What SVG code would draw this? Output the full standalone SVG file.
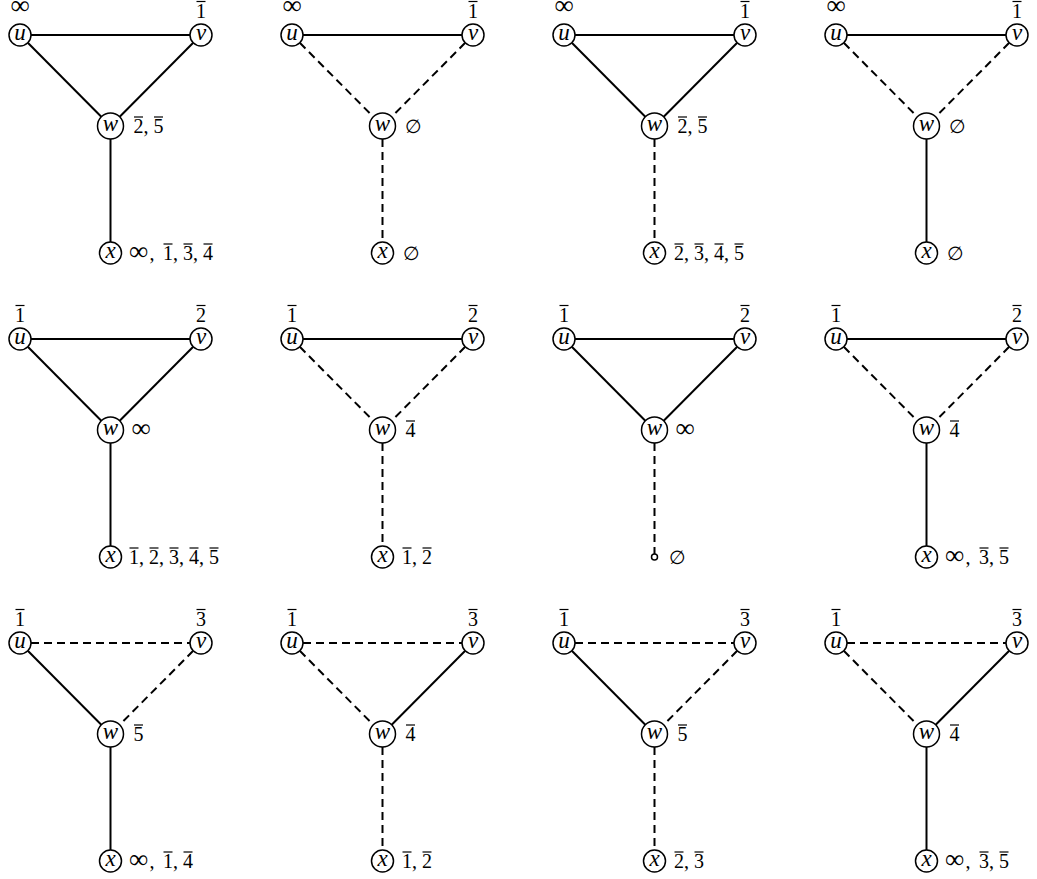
<svg xmlns="http://www.w3.org/2000/svg" width="1037" height="879" viewBox="0 0 1037 879">
<style>
.e{stroke:#000;stroke-width:2;fill:none}
.d{stroke-dasharray:8 5}
.n circle{fill:#fff;stroke:#000;stroke-width:1.5}
.bar{stroke:#000;stroke-width:1.2}
.nl{font-family:"Liberation Serif","DejaVu Serif",serif;font-style:italic;font-size:23px;text-anchor:middle}
.lb{font-family:"Liberation Serif","DejaVu Serif",serif;font-size:20px}
.inf{font-size:27px}
.es{font-family:"DejaVu Serif",serif;font-size:19px}
.c{text-anchor:middle}
</style>
<rect width="1037" height="879" fill="#fff"/>

<!-- Row 1 -->
<g id="r1c1" transform="translate(0,0)">
<g id="r1c1-edges"><line class="e" x1="31" y1="35" x2="190" y2="35"/><line class="e" x1="27.8" y1="42.8" x2="101.3" y2="116.8"/><line class="e" x1="193.2" y1="42.8" x2="119.7" y2="116.8"/><line class="e" x1="110.5" y1="139" x2="110.5" y2="242"/></g>
<g id="r1c1-u" class="n"><circle cx="20" cy="35" r="11"/><text class="nl" x="20" y="40.2">u</text><text class="lb inf c" x="20" y="14">∞</text></g>
<g id="r1c1-v" class="n"><circle cx="201" cy="35" r="11"/><text class="nl" x="201" y="40.2">v</text><text class="lb c" x="201" y="17.5">1</text><line class="bar" x1="196.5" y1="1.5" x2="205.5" y2="1.5"/></g>
<g id="r1c1-w" class="n"><circle cx="110.5" cy="126" r="13"/><text class="nl" x="110.5" y="131.2">w</text><text class="lb" y="133"><tspan x="133.5">2,</tspan><tspan x="153.5">5</tspan></text><line class="bar" x1="134" y1="117" x2="143" y2="117"/><line class="bar" x1="154" y1="117" x2="163" y2="117"/></g>
<g id="r1c1-x" class="n"><circle cx="110.5" cy="253" r="11"/><text class="nl" x="110.5" y="258.2">x</text><text class="lb" y="260"><tspan class="inf" x="129">∞</tspan><tspan x="149.5">,</tspan><tspan x="163">1,</tspan><tspan x="183">3,</tspan><tspan x="203">4</tspan></text><line class="bar" x1="163.5" y1="244" x2="172.5" y2="244"/><line class="bar" x1="183.5" y1="244" x2="192.5" y2="244"/><line class="bar" x1="203.5" y1="244" x2="212.5" y2="244"/></g>
</g>

<g id="r1c2" transform="translate(272,0)">
<g id="r1c2-edges"><line class="e" x1="31" y1="35" x2="190" y2="35"/><line class="e d" x1="27.8" y1="42.8" x2="101.3" y2="116.8"/><line class="e d" x1="193.2" y1="42.8" x2="119.7" y2="116.8"/><line class="e d" x1="110.5" y1="139" x2="110.5" y2="242"/></g>
<g id="r1c2-u" class="n"><circle cx="20" cy="35" r="11"/><text class="nl" x="20" y="40.2">u</text><text class="lb inf c" x="20" y="14">∞</text></g>
<g id="r1c2-v" class="n"><circle cx="201" cy="35" r="11"/><text class="nl" x="201" y="40.2">v</text><text class="lb c" x="201" y="17.5">1</text><line class="bar" x1="196.5" y1="1.5" x2="205.5" y2="1.5"/></g>
<g id="r1c2-w" class="n"><circle cx="110.5" cy="126" r="13"/><text class="nl" x="110.5" y="131.2">w</text><text class="es" x="132.5" y="133">∅</text></g>
<g id="r1c2-x" class="n"><circle cx="110.5" cy="253" r="11"/><text class="nl" x="110.5" y="258.2">x</text><text class="es" x="130.5" y="260">∅</text></g>
</g>

<g id="r1c3" transform="translate(544,0)">
<g id="r1c3-edges"><line class="e" x1="31" y1="35" x2="190" y2="35"/><line class="e" x1="27.8" y1="42.8" x2="101.3" y2="116.8"/><line class="e" x1="193.2" y1="42.8" x2="119.7" y2="116.8"/><line class="e d" x1="110.5" y1="139" x2="110.5" y2="242"/></g>
<g id="r1c3-u" class="n"><circle cx="20" cy="35" r="11"/><text class="nl" x="20" y="40.2">u</text><text class="lb inf c" x="20" y="14">∞</text></g>
<g id="r1c3-v" class="n"><circle cx="201" cy="35" r="11"/><text class="nl" x="201" y="40.2">v</text><text class="lb c" x="201" y="17.5">1</text><line class="bar" x1="196.5" y1="1.5" x2="205.5" y2="1.5"/></g>
<g id="r1c3-w" class="n"><circle cx="110.5" cy="126" r="13"/><text class="nl" x="110.5" y="131.2">w</text><text class="lb" y="133"><tspan x="133.5">2,</tspan><tspan x="153.5">5</tspan></text><line class="bar" x1="134" y1="117" x2="143" y2="117"/><line class="bar" x1="154" y1="117" x2="163" y2="117"/></g>
<g id="r1c3-x" class="n"><circle cx="110.5" cy="253" r="11"/><text class="nl" x="110.5" y="258.2">x</text><text class="lb" y="260"><tspan x="130">2,</tspan><tspan x="150">3,</tspan><tspan x="170">4,</tspan><tspan x="190">5</tspan></text><line class="bar" x1="130.5" y1="244" x2="139.5" y2="244"/><line class="bar" x1="150.5" y1="244" x2="159.5" y2="244"/><line class="bar" x1="170.5" y1="244" x2="179.5" y2="244"/><line class="bar" x1="190.5" y1="244" x2="199.5" y2="244"/></g>
</g>

<g id="r1c4" transform="translate(816,0)">
<g id="r1c4-edges"><line class="e" x1="31" y1="35" x2="190" y2="35"/><line class="e d" x1="27.8" y1="42.8" x2="101.3" y2="116.8"/><line class="e d" x1="193.2" y1="42.8" x2="119.7" y2="116.8"/><line class="e" x1="110.5" y1="139" x2="110.5" y2="242"/></g>
<g id="r1c4-u" class="n"><circle cx="20" cy="35" r="11"/><text class="nl" x="20" y="40.2">u</text><text class="lb inf c" x="20" y="14">∞</text></g>
<g id="r1c4-v" class="n"><circle cx="201" cy="35" r="11"/><text class="nl" x="201" y="40.2">v</text><text class="lb c" x="201" y="17.5">1</text><line class="bar" x1="196.5" y1="1.5" x2="205.5" y2="1.5"/></g>
<g id="r1c4-w" class="n"><circle cx="110.5" cy="126" r="13"/><text class="nl" x="110.5" y="131.2">w</text><text class="es" x="132.5" y="133">∅</text></g>
<g id="r1c4-x" class="n"><circle cx="110.5" cy="253" r="11"/><text class="nl" x="110.5" y="258.2">x</text><text class="es" x="130.5" y="260">∅</text></g>
</g>

<!-- Row 2 -->
<g id="r2c1" transform="translate(0,304)">
<g id="r2c1-edges"><line class="e" x1="31" y1="35" x2="190" y2="35"/><line class="e" x1="27.8" y1="42.8" x2="101.3" y2="116.8"/><line class="e" x1="193.2" y1="42.8" x2="119.7" y2="116.8"/><line class="e" x1="110.5" y1="139" x2="110.5" y2="242"/></g>
<g id="r2c1-u" class="n"><circle cx="20" cy="35" r="11"/><text class="nl" x="20" y="40.2">u</text><text class="lb c" x="20" y="17.5">1</text><line class="bar" x1="15.5" y1="1.5" x2="24.5" y2="1.5"/></g>
<g id="r2c1-v" class="n"><circle cx="201" cy="35" r="11"/><text class="nl" x="201" y="40.2">v</text><text class="lb c" x="201" y="17.5">2</text><line class="bar" x1="196.5" y1="1.5" x2="205.5" y2="1.5"/></g>
<g id="r2c1-w" class="n"><circle cx="110.5" cy="126" r="13"/><text class="nl" x="110.5" y="131.2">w</text><text class="lb inf" x="131.5" y="133">∞</text></g>
<g id="r2c1-x" class="n"><circle cx="110.5" cy="253" r="11"/><text class="nl" x="110.5" y="258.2">x</text><text class="lb" y="260"><tspan x="129">1,</tspan><tspan x="149">2,</tspan><tspan x="169">3,</tspan><tspan x="189">4,</tspan><tspan x="209">5</tspan></text><line class="bar" x1="129.5" y1="244" x2="138.5" y2="244"/><line class="bar" x1="149.5" y1="244" x2="158.5" y2="244"/><line class="bar" x1="169.5" y1="244" x2="178.5" y2="244"/><line class="bar" x1="189.5" y1="244" x2="198.5" y2="244"/><line class="bar" x1="209.5" y1="244" x2="218.5" y2="244"/></g>
</g>

<g id="r2c2" transform="translate(272,304)">
<g id="r2c2-edges"><line class="e" x1="31" y1="35" x2="190" y2="35"/><line class="e d" x1="27.8" y1="42.8" x2="101.3" y2="116.8"/><line class="e d" x1="193.2" y1="42.8" x2="119.7" y2="116.8"/><line class="e d" x1="110.5" y1="139" x2="110.5" y2="242"/></g>
<g id="r2c2-u" class="n"><circle cx="20" cy="35" r="11"/><text class="nl" x="20" y="40.2">u</text><text class="lb c" x="20" y="17.5">1</text><line class="bar" x1="15.5" y1="1.5" x2="24.5" y2="1.5"/></g>
<g id="r2c2-v" class="n"><circle cx="201" cy="35" r="11"/><text class="nl" x="201" y="40.2">v</text><text class="lb c" x="201" y="17.5">2</text><line class="bar" x1="196.5" y1="1.5" x2="205.5" y2="1.5"/></g>
<g id="r2c2-w" class="n"><circle cx="110.5" cy="126" r="13"/><text class="nl" x="110.5" y="131.2">w</text><text class="lb" x="133.5" y="133">4</text><line class="bar" x1="134" y1="117" x2="143" y2="117"/></g>
<g id="r2c2-x" class="n"><circle cx="110.5" cy="253" r="11"/><text class="nl" x="110.5" y="258.2">x</text><text class="lb" y="260"><tspan x="130">1,</tspan><tspan x="150">2</tspan></text><line class="bar" x1="130.5" y1="244" x2="139.5" y2="244"/><line class="bar" x1="150.5" y1="244" x2="159.5" y2="244"/></g>
</g>

<g id="r2c3" transform="translate(544,304)">
<g id="r2c3-edges"><line class="e" x1="31" y1="35" x2="190" y2="35"/><line class="e" x1="27.8" y1="42.8" x2="101.3" y2="116.8"/><line class="e" x1="193.2" y1="42.8" x2="119.7" y2="116.8"/><line class="e d" x1="110.5" y1="139" x2="110.5" y2="250"/></g>
<g id="r2c3-u" class="n"><circle cx="20" cy="35" r="11"/><text class="nl" x="20" y="40.2">u</text><text class="lb c" x="20" y="17.5">1</text><line class="bar" x1="15.5" y1="1.5" x2="24.5" y2="1.5"/></g>
<g id="r2c3-v" class="n"><circle cx="201" cy="35" r="11"/><text class="nl" x="201" y="40.2">v</text><text class="lb c" x="201" y="17.5">2</text><line class="bar" x1="196.5" y1="1.5" x2="205.5" y2="1.5"/></g>
<g id="r2c3-w" class="n"><circle cx="110.5" cy="126" r="13"/><text class="nl" x="110.5" y="131.2">w</text><text class="lb inf" x="131.5" y="133">∞</text></g>
<g id="r2c3-x" class="n"><circle cx="110.5" cy="253" r="3"/><text class="es" x="125" y="260">∅</text></g>
</g>

<g id="r2c4" transform="translate(816,304)">
<g id="r2c4-edges"><line class="e" x1="31" y1="35" x2="190" y2="35"/><line class="e d" x1="27.8" y1="42.8" x2="101.3" y2="116.8"/><line class="e d" x1="193.2" y1="42.8" x2="119.7" y2="116.8"/><line class="e" x1="110.5" y1="139" x2="110.5" y2="242"/></g>
<g id="r2c4-u" class="n"><circle cx="20" cy="35" r="11"/><text class="nl" x="20" y="40.2">u</text><text class="lb c" x="20" y="17.5">1</text><line class="bar" x1="15.5" y1="1.5" x2="24.5" y2="1.5"/></g>
<g id="r2c4-v" class="n"><circle cx="201" cy="35" r="11"/><text class="nl" x="201" y="40.2">v</text><text class="lb c" x="201" y="17.5">2</text><line class="bar" x1="196.5" y1="1.5" x2="205.5" y2="1.5"/></g>
<g id="r2c4-w" class="n"><circle cx="110.5" cy="126" r="13"/><text class="nl" x="110.5" y="131.2">w</text><text class="lb" x="133.5" y="133">4</text><line class="bar" x1="134" y1="117" x2="143" y2="117"/></g>
<g id="r2c4-x" class="n"><circle cx="110.5" cy="253" r="11"/><text class="nl" x="110.5" y="258.2">x</text><text class="lb" y="260"><tspan class="inf" x="129">∞</tspan><tspan x="149.5">,</tspan><tspan x="163">3,</tspan><tspan x="183">5</tspan></text><line class="bar" x1="163.5" y1="244" x2="172.5" y2="244"/><line class="bar" x1="183.5" y1="244" x2="192.5" y2="244"/></g>
</g>

<!-- Row 3 -->
<g id="r3c1" transform="translate(0,608)">
<g id="r3c1-edges"><line class="e d" x1="31" y1="35" x2="190" y2="35"/><line class="e" x1="27.8" y1="42.8" x2="101.3" y2="116.8"/><line class="e d" x1="193.2" y1="42.8" x2="119.7" y2="116.8"/><line class="e" x1="110.5" y1="139" x2="110.5" y2="242"/></g>
<g id="r3c1-u" class="n"><circle cx="20" cy="35" r="11"/><text class="nl" x="20" y="40.2">u</text><text class="lb c" x="20" y="17.5">1</text><line class="bar" x1="15.5" y1="1.5" x2="24.5" y2="1.5"/></g>
<g id="r3c1-v" class="n"><circle cx="201" cy="35" r="11"/><text class="nl" x="201" y="40.2">v</text><text class="lb c" x="201" y="17.5">3</text><line class="bar" x1="196.5" y1="1.5" x2="205.5" y2="1.5"/></g>
<g id="r3c1-w" class="n"><circle cx="110.5" cy="126" r="13"/><text class="nl" x="110.5" y="131.2">w</text><text class="lb" x="133.5" y="133">5</text><line class="bar" x1="134" y1="117" x2="143" y2="117"/></g>
<g id="r3c1-x" class="n"><circle cx="110.5" cy="253" r="11"/><text class="nl" x="110.5" y="258.2">x</text><text class="lb" y="260"><tspan class="inf" x="129">∞</tspan><tspan x="149.5">,</tspan><tspan x="163">1,</tspan><tspan x="183">4</tspan></text><line class="bar" x1="163.5" y1="244" x2="172.5" y2="244"/><line class="bar" x1="183.5" y1="244" x2="192.5" y2="244"/></g>
</g>

<g id="r3c2" transform="translate(272,608)">
<g id="r3c2-edges"><line class="e d" x1="31" y1="35" x2="190" y2="35"/><line class="e d" x1="27.8" y1="42.8" x2="101.3" y2="116.8"/><line class="e" x1="193.2" y1="42.8" x2="119.7" y2="116.8"/><line class="e d" x1="110.5" y1="139" x2="110.5" y2="242"/></g>
<g id="r3c2-u" class="n"><circle cx="20" cy="35" r="11"/><text class="nl" x="20" y="40.2">u</text><text class="lb c" x="20" y="17.5">1</text><line class="bar" x1="15.5" y1="1.5" x2="24.5" y2="1.5"/></g>
<g id="r3c2-v" class="n"><circle cx="201" cy="35" r="11"/><text class="nl" x="201" y="40.2">v</text><text class="lb c" x="201" y="17.5">3</text><line class="bar" x1="196.5" y1="1.5" x2="205.5" y2="1.5"/></g>
<g id="r3c2-w" class="n"><circle cx="110.5" cy="126" r="13"/><text class="nl" x="110.5" y="131.2">w</text><text class="lb" x="133.5" y="133">4</text><line class="bar" x1="134" y1="117" x2="143" y2="117"/></g>
<g id="r3c2-x" class="n"><circle cx="110.5" cy="253" r="11"/><text class="nl" x="110.5" y="258.2">x</text><text class="lb" y="260"><tspan x="130">1,</tspan><tspan x="150">2</tspan></text><line class="bar" x1="130.5" y1="244" x2="139.5" y2="244"/><line class="bar" x1="150.5" y1="244" x2="159.5" y2="244"/></g>
</g>

<g id="r3c3" transform="translate(544,608)">
<g id="r3c3-edges"><line class="e d" x1="31" y1="35" x2="190" y2="35"/><line class="e" x1="27.8" y1="42.8" x2="101.3" y2="116.8"/><line class="e d" x1="193.2" y1="42.8" x2="119.7" y2="116.8"/><line class="e d" x1="110.5" y1="139" x2="110.5" y2="242"/></g>
<g id="r3c3-u" class="n"><circle cx="20" cy="35" r="11"/><text class="nl" x="20" y="40.2">u</text><text class="lb c" x="20" y="17.5">1</text><line class="bar" x1="15.5" y1="1.5" x2="24.5" y2="1.5"/></g>
<g id="r3c3-v" class="n"><circle cx="201" cy="35" r="11"/><text class="nl" x="201" y="40.2">v</text><text class="lb c" x="201" y="17.5">3</text><line class="bar" x1="196.5" y1="1.5" x2="205.5" y2="1.5"/></g>
<g id="r3c3-w" class="n"><circle cx="110.5" cy="126" r="13"/><text class="nl" x="110.5" y="131.2">w</text><text class="lb" x="133.5" y="133">5</text><line class="bar" x1="134" y1="117" x2="143" y2="117"/></g>
<g id="r3c3-x" class="n"><circle cx="110.5" cy="253" r="11"/><text class="nl" x="110.5" y="258.2">x</text><text class="lb" y="260"><tspan x="130">2,</tspan><tspan x="150">3</tspan></text><line class="bar" x1="130.5" y1="244" x2="139.5" y2="244"/><line class="bar" x1="150.5" y1="244" x2="159.5" y2="244"/></g>
</g>

<g id="r3c4" transform="translate(816,608)">
<g id="r3c4-edges"><line class="e d" x1="31" y1="35" x2="190" y2="35"/><line class="e d" x1="27.8" y1="42.8" x2="101.3" y2="116.8"/><line class="e" x1="193.2" y1="42.8" x2="119.7" y2="116.8"/><line class="e" x1="110.5" y1="139" x2="110.5" y2="242"/></g>
<g id="r3c4-u" class="n"><circle cx="20" cy="35" r="11"/><text class="nl" x="20" y="40.2">u</text><text class="lb c" x="20" y="17.5">1</text><line class="bar" x1="15.5" y1="1.5" x2="24.5" y2="1.5"/></g>
<g id="r3c4-v" class="n"><circle cx="201" cy="35" r="11"/><text class="nl" x="201" y="40.2">v</text><text class="lb c" x="201" y="17.5">3</text><line class="bar" x1="196.5" y1="1.5" x2="205.5" y2="1.5"/></g>
<g id="r3c4-w" class="n"><circle cx="110.5" cy="126" r="13"/><text class="nl" x="110.5" y="131.2">w</text><text class="lb" x="133.5" y="133">4</text><line class="bar" x1="134" y1="117" x2="143" y2="117"/></g>
<g id="r3c4-x" class="n"><circle cx="110.5" cy="253" r="11"/><text class="nl" x="110.5" y="258.2">x</text><text class="lb" y="260"><tspan class="inf" x="129">∞</tspan><tspan x="149.5">,</tspan><tspan x="163">3,</tspan><tspan x="183">5</tspan></text><line class="bar" x1="163.5" y1="244" x2="172.5" y2="244"/><line class="bar" x1="183.5" y1="244" x2="192.5" y2="244"/></g>
</g>
</svg>
